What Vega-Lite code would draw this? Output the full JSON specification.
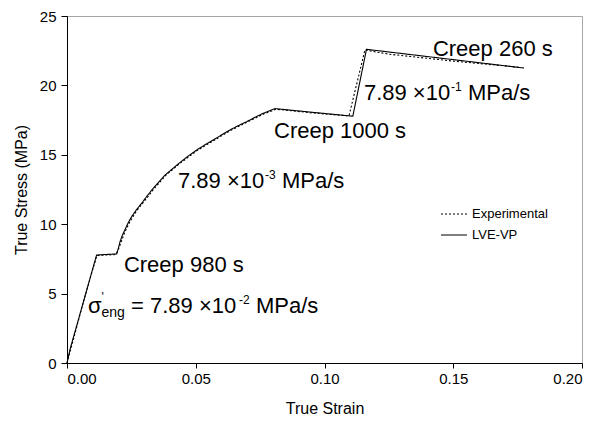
{
  "$schema": "https://vega.github.io/schema/vega-lite/v6.json",
  "width": 515,
  "height": 347,
  "autosize": {"type": "none"},
  "padding": {"left": 67, "top": 16, "right": 26, "bottom": 61},
  "background": "white",
  "config": {
    "view": {"stroke": "#a6a6a6", "strokeWidth": 1},
    "font": "Liberation Sans",
    "axis": {
      "grid": false,
      "domainColor": "black",
      "tickColor": "black",
      "labelColor": "black",
      "titleColor": "black",
      "labelFont": "Liberation Sans",
      "titleFont": "Liberation Sans",
      "labelFontSize": 15,
      "titleFontSize": 16,
      "titleFontWeight": "normal"
    },
    "legend": {"labelFont": "Liberation Sans", "labelFontSize": 13, "labelColor": "black"}
  },
  "datasets": {
    "curves": [
      {"series": "LVE-VP", "strain": 0, "stress": 0},
      {"series": "LVE-VP", "strain": 0.0012, "stress": 1.0},
      {"series": "LVE-VP", "strain": 0.0115, "stress": 7.78},
      {"series": "LVE-VP", "strain": 0.0193, "stress": 7.86},
      {"series": "LVE-VP", "strain": 0.02, "stress": 8.3},
      {"series": "LVE-VP", "strain": 0.0206, "stress": 8.74},
      {"series": "LVE-VP", "strain": 0.0215, "stress": 9.2},
      {"series": "LVE-VP", "strain": 0.0225, "stress": 9.6},
      {"series": "LVE-VP", "strain": 0.0237, "stress": 10.08},
      {"series": "LVE-VP", "strain": 0.0251, "stress": 10.54},
      {"series": "LVE-VP", "strain": 0.027, "stress": 11.05},
      {"series": "LVE-VP", "strain": 0.029, "stress": 11.51},
      {"series": "LVE-VP", "strain": 0.0312, "stress": 12.06},
      {"series": "LVE-VP", "strain": 0.0335, "stress": 12.59},
      {"series": "LVE-VP", "strain": 0.0358, "stress": 13.07},
      {"series": "LVE-VP", "strain": 0.0381, "stress": 13.54},
      {"series": "LVE-VP", "strain": 0.041, "stress": 14.0},
      {"series": "LVE-VP", "strain": 0.0439, "stress": 14.45},
      {"series": "LVE-VP", "strain": 0.047, "stress": 14.9},
      {"series": "LVE-VP", "strain": 0.0504, "stress": 15.35},
      {"series": "LVE-VP", "strain": 0.0536, "stress": 15.72},
      {"series": "LVE-VP", "strain": 0.0568, "stress": 16.07},
      {"series": "LVE-VP", "strain": 0.06, "stress": 16.43},
      {"series": "LVE-VP", "strain": 0.0633, "stress": 16.79},
      {"series": "LVE-VP", "strain": 0.0665, "stress": 17.1},
      {"series": "LVE-VP", "strain": 0.0698, "stress": 17.39},
      {"series": "LVE-VP", "strain": 0.073, "stress": 17.7},
      {"series": "LVE-VP", "strain": 0.0762, "stress": 17.99},
      {"series": "LVE-VP", "strain": 0.079, "stress": 18.2},
      {"series": "LVE-VP", "strain": 0.0808, "stress": 18.33},
      {"series": "LVE-VP", "strain": 0.0866, "stress": 18.22},
      {"series": "LVE-VP", "strain": 0.111, "stress": 17.78},
      {"series": "LVE-VP", "strain": 0.1163, "stress": 22.6},
      {"series": "LVE-VP", "strain": 0.1775, "stress": 21.25},
      {"series": "Experimental", "strain": 0, "stress": 0},
      {"series": "Experimental", "strain": 0.0025, "stress": 1.7},
      {"series": "Experimental", "strain": 0.0057, "stress": 3.95},
      {"series": "Experimental", "strain": 0.0096, "stress": 6.5},
      {"series": "Experimental", "strain": 0.0116, "stress": 7.74},
      {"series": "Experimental", "strain": 0.019, "stress": 7.82},
      {"series": "Experimental", "strain": 0.02, "stress": 8.2},
      {"series": "Experimental", "strain": 0.021, "stress": 8.7},
      {"series": "Experimental", "strain": 0.0225, "stress": 9.45},
      {"series": "Experimental", "strain": 0.0245, "stress": 10.2},
      {"series": "Experimental", "strain": 0.027, "stress": 10.95},
      {"series": "Experimental", "strain": 0.03, "stress": 11.65},
      {"series": "Experimental", "strain": 0.034, "stress": 12.6},
      {"series": "Experimental", "strain": 0.0385, "stress": 13.55},
      {"series": "Experimental", "strain": 0.044, "stress": 14.4},
      {"series": "Experimental", "strain": 0.0505, "stress": 15.3},
      {"series": "Experimental", "strain": 0.057, "stress": 16.03},
      {"series": "Experimental", "strain": 0.0635, "stress": 16.75},
      {"series": "Experimental", "strain": 0.07, "stress": 17.36},
      {"series": "Experimental", "strain": 0.0765, "stress": 17.95},
      {"series": "Experimental", "strain": 0.0812, "stress": 18.28},
      {"series": "Experimental", "strain": 0.087, "stress": 18.18},
      {"series": "Experimental", "strain": 0.095, "stress": 18.02},
      {"series": "Experimental", "strain": 0.1095, "stress": 17.8},
      {"series": "Experimental", "strain": 0.1157, "stress": 22.55},
      {"series": "Experimental", "strain": 0.125, "stress": 22.25},
      {"series": "Experimental", "strain": 0.15, "stress": 21.75},
      {"series": "Experimental", "strain": 0.176, "stress": 21.3}
    ],
    "mainText": [
      {"x": 0.1421, "y": 22.12, "t": "Creep 260 s"},
      {"x": 0.1153, "y": 18.95, "t": "7.89 ×10"},
      {"x": 0.1557, "y": 18.95, "t": "MPa/s"},
      {"x": 0.0804, "y": 16.21, "t": "Creep 1000 s"},
      {"x": 0.0431, "y": 12.61, "t": "7.89 ×10"},
      {"x": 0.0835, "y": 12.61, "t": "MPa/s"},
      {"x": 0.0221, "y": 6.56, "t": "Creep 980 s"},
      {"x": 0.00816, "y": 3.6, "t": "σ"},
      {"x": 0.02485, "y": 3.6, "t": "= 7.89 ×10"},
      {"x": 0.0734, "y": 3.6, "t": "MPa/s"}
    ],
    "supText": [
      {"x": 0.1491, "y": 19.6, "t": "-1"},
      {"x": 0.0769, "y": 13.26, "t": "-3"},
      {"x": 0.0668, "y": 4.25, "t": "-2"},
      {"x": 0.0134, "y": 4.5, "t": "'"}
    ],
    "subText": [
      {"x": 0.0134, "y": 3.3, "t": "eng"}
    ]
  },
  "layer": [
    {
      "data": {"name": "curves"},
      "mark": {"type": "line", "color": "black", "strokeWidth": 1.1},
      "encoding": {
        "x": {
          "field": "strain", "type": "quantitative",
          "scale": {"domain": [0, 0.2], "nice": false},
          "axis": {"values": [0, 0.05, 0.1, 0.15, 0.2], "format": ".2f", "title": "True Strain", "tickSize": 5, "labelPadding": 3, "titlePadding": 14}
        },
        "y": {
          "field": "stress", "type": "quantitative",
          "scale": {"domain": [0, 25], "nice": false},
          "axis": {"values": [0, 5, 10, 15, 20, 25], "title": "True Stress (MPa)", "tickSize": 6, "labelPadding": 5, "titlePadding": 10}
        },
        "strokeDash": {
          "field": "series", "type": "nominal",
          "scale": {"domain": ["Experimental", "LVE-VP"], "range": [[2, 2], [1, 0]]},
          "legend": {
            "title": null, "orient": "none", "legendX": 373, "legendY": 184,
            "symbolType": "stroke", "symbolSize": 676, "symbolStrokeWidth": 1.1,
            "symbolStrokeColor": "black", "rowPadding": 0, "labelOffset": 4
          }
        }
      }
    },
    {
      "data": {"name": "mainText"},
      "mark": {"type": "text", "align": "left", "baseline": "alphabetic", "fontSize": 22, "font": "Liberation Sans", "color": "black"},
      "encoding": {
        "x": {"field": "x", "type": "quantitative"},
        "y": {"field": "y", "type": "quantitative"},
        "text": {"field": "t"}
      }
    },
    {
      "data": {"name": "supText"},
      "mark": {"type": "text", "align": "left", "baseline": "alphabetic", "fontSize": 12, "font": "Liberation Sans", "color": "black"},
      "encoding": {
        "x": {"field": "x", "type": "quantitative"},
        "y": {"field": "y", "type": "quantitative"},
        "text": {"field": "t"}
      }
    },
    {
      "data": {"name": "subText"},
      "mark": {"type": "text", "align": "left", "baseline": "alphabetic", "fontSize": 14, "font": "Liberation Sans", "color": "black"},
      "encoding": {
        "x": {"field": "x", "type": "quantitative"},
        "y": {"field": "y", "type": "quantitative"},
        "text": {"field": "t"}
      }
    }
  ]
}
